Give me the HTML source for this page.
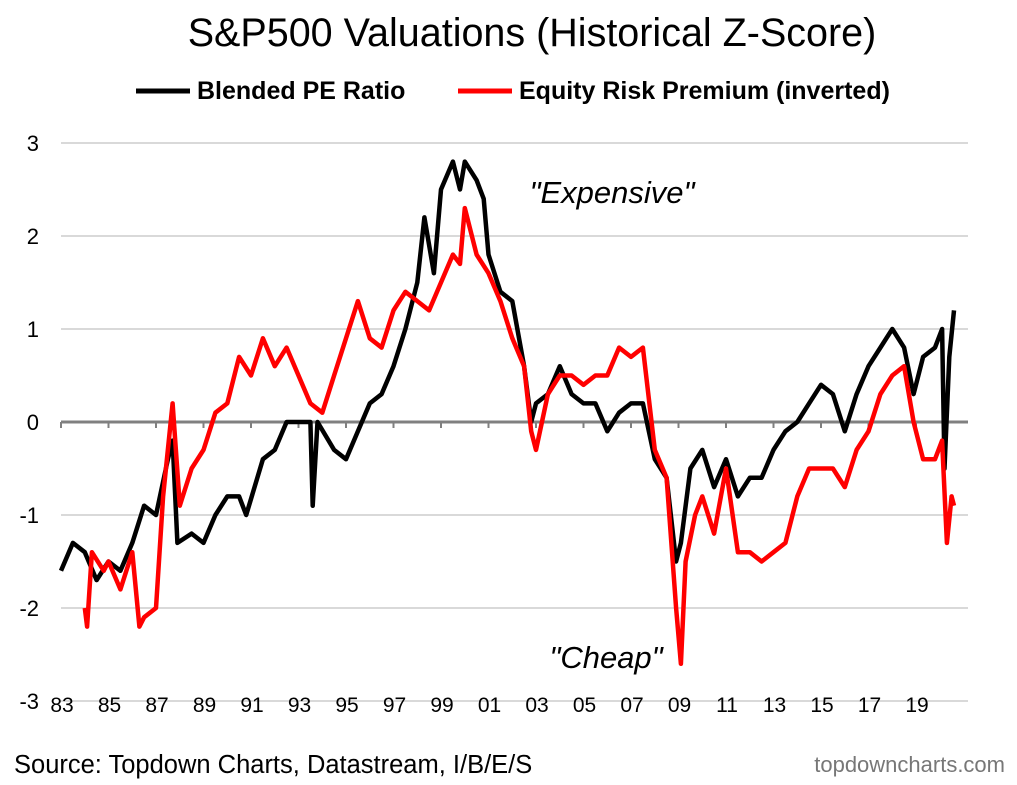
<!DOCTYPE html>
<html><head><meta charset="utf-8"><style>
body{margin:0;background:#fff;font-family:"Liberation Sans",Arial,sans-serif}
svg{display:block}
</style></head><body>
<svg id="c" width="1017" height="785" xmlns="http://www.w3.org/2000/svg">
<text x="532" y="46" font-size="39.5" text-anchor="middle">S&amp;P500 Valuations (Historical Z-Score)</text>
<g>
<line x1="136" y1="91" x2="190" y2="91" stroke="#000" stroke-width="5"/>
<text x="197" y="99" font-size="25" font-weight="bold">Blended PE Ratio</text>
<line x1="458" y1="91" x2="512" y2="91" stroke="#f00" stroke-width="5"/>
<text x="519" y="99" font-size="25" font-weight="bold">Equity Risk Premium (inverted)</text>
</g>
<g id="grid"></g><g id="series"></g>
<text x="612" y="203" font-size="31" font-style="italic" text-anchor="middle">"Expensive"</text>
<text x="606" y="668" font-size="31" font-style="italic" text-anchor="middle">"Cheap"</text>
<text x="14" y="773" font-size="25.5">Source: Topdown Charts, Datastream, I/B/E/S</text>
<text x="1005" y="772" font-size="22" fill="#777" text-anchor="end">topdowncharts.com</text>
</svg>
<script>
const yTicks=[3,2,1,0,-1,-2,-3];
const xLabels=["83","85","87","89","91","93","95","97","99","01","03","05","07","09","11","13","15","17","19"];
const peYears=[1983,1983.5,1984,1984.5,1985,1985.5,1986,1986.5,1987,1987.5,1987.7,1987.9,1988.5,1989,1989.5,1990,1990.5,1990.8,1991.5,1992,1992.5,1993,1993.5,1993.6,1993.8,1994.5,1995,1995.5,1996,1996.5,1997,1997.5,1998,1998.3,1998.7,1999,1999.5,1999.8,2000,2000.5,2000.8,2001,2001.5,2002,2002.5,2002.8,2003,2003.5,2004,2004.5,2005,2005.5,2006,2006.5,2007,2007.5,2008,2008.5,2008.9,2009.1,2009.5,2010,2010.5,2011,2011.5,2012,2012.5,2013,2013.5,2014,2014.5,2015,2015.5,2016,2016.5,2017,2017.5,2018,2018.5,2018.9,2019.3,2019.8,2020.1,2020.2,2020.4,2020.6];
const peValues=[-1.6,-1.3,-1.4,-1.7,-1.5,-1.6,-1.3,-0.9,-1.0,-0.4,-0.2,-1.3,-1.2,-1.3,-1.0,-0.8,-0.8,-1.0,-0.4,-0.3,0.0,0.0,0.0,-0.9,0.0,-0.3,-0.4,-0.1,0.2,0.3,0.6,1.0,1.5,2.2,1.6,2.5,2.8,2.5,2.8,2.6,2.4,1.8,1.4,1.3,0.6,0.0,0.2,0.3,0.6,0.3,0.2,0.2,-0.1,0.1,0.2,0.2,-0.4,-0.6,-1.5,-1.3,-0.5,-0.3,-0.7,-0.4,-0.8,-0.6,-0.6,-0.3,-0.1,0.0,0.2,0.4,0.3,-0.1,0.3,0.6,0.8,1.0,0.8,0.3,0.7,0.8,1.0,-0.5,0.7,1.2];
const erpYears=[1984,1984.1,1984.3,1984.8,1985,1985.5,1986,1986.3,1986.5,1987,1987.3,1987.7,1988,1988.5,1989,1989.5,1990,1990.5,1991,1991.5,1992,1992.5,1993,1993.5,1994,1994.5,1995,1995.5,1996,1996.5,1997,1997.5,1998,1998.5,1999,1999.5,1999.8,2000,2000.5,2001,2001.5,2002,2002.5,2002.8,2003,2003.5,2004,2004.5,2005,2005.5,2006,2006.5,2007,2007.5,2008,2008.5,2008.9,2009.1,2009.3,2009.7,2010,2010.5,2011,2011.5,2012,2012.5,2013,2013.5,2014,2014.5,2015,2015.5,2016,2016.5,2017,2017.5,2018,2018.5,2018.9,2019.3,2019.8,2020.1,2020.3,2020.5,2020.6];
const erpValues=[-2.0,-2.2,-1.4,-1.6,-1.5,-1.8,-1.4,-2.2,-2.1,-2.0,-0.8,0.2,-0.9,-0.5,-0.3,0.1,0.2,0.7,0.5,0.9,0.6,0.8,0.5,0.2,0.1,0.5,0.9,1.3,0.9,0.8,1.2,1.4,1.3,1.2,1.5,1.8,1.7,2.3,1.8,1.6,1.3,0.9,0.6,-0.1,-0.3,0.3,0.5,0.5,0.4,0.5,0.5,0.8,0.7,0.8,-0.3,-0.6,-2.0,-2.6,-1.5,-1.0,-0.8,-1.2,-0.5,-1.4,-1.4,-1.5,-1.4,-1.3,-0.8,-0.5,-0.5,-0.5,-0.7,-0.3,-0.1,0.3,0.5,0.6,0.0,-0.4,-0.4,-0.2,-1.3,-0.8,-0.9];
const NS="http://www.w3.org/2000/svg";
const X=y=>61+(y-1983)*23.75;
const Y=v=>422-v*93;
const grid=document.getElementById('grid'),ser=document.getElementById('series');
function mk(tag,attrs,parent){const e=document.createElementNS(NS,tag);for(const k in attrs)e.setAttribute(k,attrs[k]);parent.appendChild(e);return e;}
yTicks.forEach(t=>{
 if(t!==0){const l=mk('line',{x1:61,x2:968,y1:Y(t),y2:Y(t),stroke:'#d9d9d9','stroke-width':2},grid);
 
 }
 const tx=mk('text',{x:39,y:Y(t)+8,'font-size':22,'text-anchor':'end'},grid);tx.textContent=t;
 
 
});
const ax=mk('line',{x1:61,x2:968,y1:Y(0),y2:Y(0),stroke:'#808080','stroke-width':3},grid);


xLabels.forEach((s,i)=>{
 const x=X(1983+2*i);
 const tk=mk('line',{x1:x,x2:x,y1:Y(0),y2:Y(0)+6,stroke:'#808080','stroke-width':2},grid);
 
 
 const tx=mk('text',{x:x+1,y:712,'font-size':21,'text-anchor':'middle'},grid);tx.textContent=s;
 
 
});
function line(xs,vs,color,name){
 const d=xs.map((y,i)=>(i?'L':'M')+X(y).toFixed(1)+','+Y(vs[i]).toFixed(1)).join('');
 const p=mk('path',{d:d,fill:'none',stroke:color,'stroke-width':4.5,'stroke-linejoin':'round'},ser);
 
 
}
line(peYears,peValues,'#000','pe-ratio-line');
line(erpYears,erpValues,'#f00','erp-line');
</script>
</body></html>
